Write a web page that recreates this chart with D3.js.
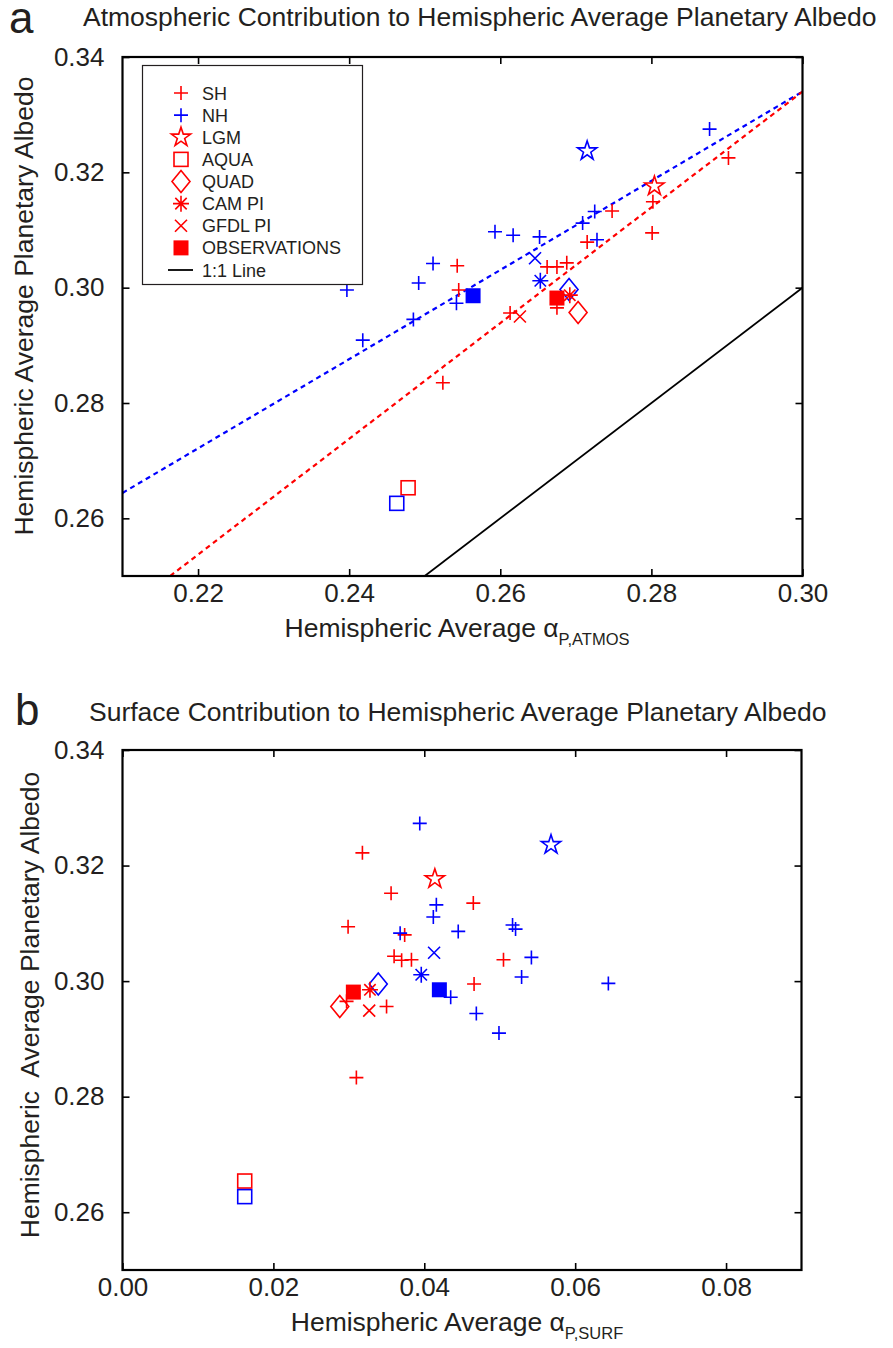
<!DOCTYPE html>
<html>
<head>
<meta charset="utf-8">
<script src="https://cdn.jsdelivr.net/npm/d3@7"></script>
<style>
body { margin: 0; background: #fff; }
text { font-family: "Liberation Sans", Arial, sans-serif; fill: #231f20; }
</style>
</head>
<body>
<script>
// panel a: atmospheric contribution vs planetary albedo
const shAtmos = [[0.2524, 0.2835], [0.2543, 0.3038], [0.2545, 0.2996], [0.2613, 0.2956], [0.2662, 0.3036], [0.2675, 0.3036], [0.2688, 0.3043], [0.2675, 0.2965], [0.2715, 0.3079], [0.2748, 0.3133], [0.2801, 0.3095], [0.2802, 0.3149], [0.2902, 0.3225]];
const nhAtmos = [[0.2397, 0.2996], [0.2418, 0.2909], [0.2485, 0.2945], [0.2492, 0.3008], [0.2511, 0.3042], [0.2542, 0.2973], [0.2593, 0.3097], [0.2617, 0.3091], [0.2652, 0.3088], [0.2709, 0.3112], [0.2725, 0.3132], [0.2728, 0.3083], [0.2877, 0.3275]];
// LGM, AQUA, QUAD, CAM PI, GFDL PI, OBSERVATIONS
const shSpecialAtmos = [[0.2804, 0.3176], [0.2478, 0.2653], [0.2703, 0.2957], [0.2692, 0.2987], [0.2626, 0.2950], [0.2675, 0.2982]];
const nhSpecialAtmos = [[0.2715, 0.3237], [0.2463, 0.2626], [0.2691, 0.2997], [0.2653, 0.3012], [0.2646, 0.3051], [0.2564, 0.2986]];
const shFit = [[0.2163, 0.25], [0.30, 0.334]];
const nhFit = [[0.21, 0.2644], [0.30, 0.334]];
const oneToOne = [[0.25, 0.25], [0.30, 0.30]];

// panel b: surface contribution vs planetary albedo
const shSurf = [[0.0318, 0.3222], [0.0356, 0.3152], [0.0465, 0.3135], [0.0299, 0.3094], [0.0374, 0.3080], [0.0360, 0.3043], [0.0370, 0.3036], [0.0383, 0.3037], [0.0505, 0.3037], [0.0466, 0.2995], [0.0297, 0.2965], [0.0350, 0.2956], [0.0310, 0.2833]];
const nhSurf = [[0.0394, 0.3273], [0.0416, 0.3132], [0.0412, 0.3111], [0.0368, 0.3083], [0.0445, 0.3086], [0.0517, 0.3097], [0.0521, 0.3090], [0.0542, 0.3041], [0.0529, 0.3007], [0.0435, 0.2972], [0.0469, 0.2944], [0.0499, 0.2910], [0.0644, 0.2996]];
const shSpecialSurf = [[0.0414, 0.3177], [0.0162, 0.2654], [0.0288, 0.2956], [0.0328, 0.2985], [0.0327, 0.2949], [0.0306, 0.2981]];
const nhSpecialSurf = [[0.0568, 0.3236], [0.0162, 0.2627], [0.0339, 0.2995], [0.0396, 0.3011], [0.0413, 0.3049], [0.0420, 0.2985]];

const specialNames = ["LGM", "AQUA", "QUAD", "CAM PI", "GFDL PI", "OBSERVATIONS"];
const legendLabels = ["SH", "NH"].concat(specialNames, ["1:1 Line"]);
const atmosTicks = [0.22, 0.24, 0.26, 0.28, 0.30];
const surfTicks = [0.00, 0.02, 0.04, 0.06, 0.08];
const albedoTicks = [0.26, 0.28, 0.30, 0.32, 0.34];

const RED = "#ff0000", BLUE = "#0000ff";
const width = 893, height = 1348;

var svg = d3.select("body").append("svg")
    .attr("width", width)
    .attr("height", height);

// marker shapes, drawn around 0,0
function marker(g, name, color) {
    let sw = 1.6;
    if (name === "plus") {
        g.append("path").attr("d", "M-7,0H7M0,-7V7")
            .attr("stroke", color).attr("stroke-width", sw).attr("fill", "none");
    } else if (name === "LGM") {
        g.append("path").attr("d", d3.symbol().type(d3.symbolStar).size(115)())
            .attr("stroke", color).attr("stroke-width", sw).attr("fill", "none");
    } else if (name === "AQUA") {
        g.append("rect").attr("x", -7).attr("y", -7).attr("width", 14).attr("height", 14)
            .attr("stroke", color).attr("stroke-width", sw).attr("fill", "none");
    } else if (name === "QUAD") {
        g.append("path").attr("d", "M0,-11L9,0L0,11L-9,0Z")
            .attr("stroke", color).attr("stroke-width", sw).attr("fill", "none");
    } else if (name === "CAM PI") {
        g.append("path").attr("d", "M-8,0H8M0,-8V8M-5.7,-5.7L5.7,5.7M-5.7,5.7L5.7,-5.7")
            .attr("stroke", color).attr("stroke-width", sw).attr("fill", "none");
    } else if (name === "GFDL PI") {
        g.append("path").attr("d", "M-6,-6L6,6M-6,6L6,-6")
            .attr("stroke", color).attr("stroke-width", sw).attr("fill", "none");
    } else if (name === "OBSERVATIONS") {
        g.append("rect").attr("x", -7.5).attr("y", -7.5).attr("width", 15).attr("height", 15)
            .attr("fill", color);
    }
}

function panel(opt) {
    let x = d3.scaleLinear().domain(opt.xDomain).range([opt.left, opt.right]);
    let y = d3.scaleLinear().domain([0.25, 0.34]).range([opt.bottom, opt.top]);
    let g = svg.append("g");

    g.append("clipPath").attr("id", "clip" + opt.id)
        .append("rect")
        .attr("x", opt.left).attr("y", opt.top)
        .attr("width", opt.right - opt.left).attr("height", opt.bottom - opt.top);

    // inward ticks on all four sides
    let tk = 7;
    g.append("g").attr("transform", `translate(0,${opt.bottom})`)
        .call(d3.axisBottom(x).tickValues(opt.xTicks).tickSize(-tk).tickFormat(d3.format(".2f")).tickPadding(8))
        .call(s => s.select(".domain").remove());
    g.append("g").attr("transform", `translate(0,${opt.top})`)
        .call(d3.axisTop(x).tickValues(opt.xTicks).tickSize(-tk).tickFormat(""))
        .call(s => s.select(".domain").remove());
    g.append("g").attr("transform", `translate(${opt.left},0)`)
        .call(d3.axisLeft(y).tickValues(albedoTicks).tickSize(-tk).tickFormat(d3.format(".2f")).tickPadding(18))
        .call(s => s.select(".domain").remove());
    g.append("g").attr("transform", `translate(${opt.right},0)`)
        .call(d3.axisRight(y).tickValues(albedoTicks).tickSize(-tk).tickFormat(""))
        .call(s => s.select(".domain").remove());
    g.selectAll(".tick line").attr("stroke", "#000").attr("stroke-width", 1.6);
    g.selectAll(".tick text").attr("font-size", 26).attr("fill", "#231f20")
        .attr("font-family", "Liberation Sans, Arial, sans-serif");

    let lines = g.append("g").attr("clip-path", `url(#clip${opt.id})`);
    let lineGen = d3.line().x(d => x(d[0])).y(d => y(d[1]));
    (opt.fits || []).forEach(f => {
        lines.append("path").datum(f.data)
            .attr("d", lineGen)
            .attr("fill", "none")
            .attr("stroke", f.color)
            .attr("stroke-width", f.dash ? 2.2 : 1.8)
            .attr("stroke-dasharray", f.dash ? "5,4" : null);
    });

    let pts = g.append("g");
    function plotSet(data, shape, color) {
        data.forEach(d => {
            marker(pts.append("g").attr("transform", `translate(${x(d[0])},${y(d[1])})`), shape, color);
        });
    }
    plotSet(opt.sh, "plus", RED);
    plotSet(opt.nh, "plus", BLUE);
    specialNames.forEach((n, i) => {
        plotSet([opt.shSpecial[i]], n, RED);
        plotSet([opt.nhSpecial[i]], n, BLUE);
    });

    // frame
    g.append("rect")
        .attr("x", opt.left).attr("y", opt.top)
        .attr("width", opt.right - opt.left).attr("height", opt.bottom - opt.top)
        .attr("fill", "none").attr("stroke", "#000").attr("stroke-width", 2.2);

    // letter + title
    g.append("text").attr("x", opt.letterX).attr("y", opt.letterY)
        .attr("font-size", 44).text(opt.letter);
    g.append("text").attr("x", opt.titleX).attr("y", opt.titleY)
        .attr("font-size", 26.5).text(opt.title);

    // x label with subscript
    let xl = g.append("text")
        .attr("x", opt.xLabelX).attr("y", opt.xLabelY)
        .attr("text-anchor", "middle").attr("font-size", 26.5);
    xl.append("tspan").text("Hemispheric Average \u03b1");
    xl.append("tspan").attr("font-size", 16.5).attr("dy", 8).text(opt.sub);

    g.append("text")
        .attr("transform", `translate(${opt.yLabelX},${opt.yLabelY}) rotate(-90)`)
        .attr("text-anchor", "middle").attr("font-size", 26.5)
        .attr("xml:space", "preserve").style("white-space", "pre")
        .text(opt.yLabel);

    return { g, x, y };
}

let a = panel({
    id: "a", left: 122.5, right: 802.5, top: 57, bottom: 576,
    xDomain: [0.21, 0.30], xTicks: atmosTicks,
    sh: shAtmos, nh: nhAtmos, shSpecial: shSpecialAtmos, nhSpecial: nhSpecialAtmos,
    fits: [
        { data: oneToOne, color: "#000", dash: false },
        { data: nhFit, color: BLUE, dash: true },
        { data: shFit, color: RED, dash: true }
    ],
    letter: "a", letterX: 9, letterY: 33,
    title: "Atmospheric Contribution to Hemispheric Average Planetary Albedo", titleX: 83, titleY: 26,
    sub: "P,ATMOS", xLabelX: 457, xLabelY: 637,
    yLabel: "Hemispheric Average Planetary Albedo", yLabelX: 33, yLabelY: 306
});

let b = panel({
    id: "b", left: 122.5, right: 801.5, top: 750, bottom: 1270,
    xDomain: [0.00, 0.09], xTicks: surfTicks,
    sh: shSurf, nh: nhSurf, shSpecial: shSpecialSurf, nhSpecial: nhSpecialSurf,
    fits: [],
    letter: "b", letterX: 15, letterY: 725,
    title: "Surface Contribution to Hemispheric Average Planetary Albedo", titleX: 89, titleY: 721,
    sub: "P,SURF", xLabelX: 457, xLabelY: 1331,
    yLabel: "Hemispheric  Average Planetary Albedo", yLabelX: 39, yLabelY: 1005
});

// legend in panel a
let lg = svg.append("g");
lg.append("rect").attr("x", 142.5).attr("y", 65.5).attr("width", 220).attr("height", 219)
    .attr("fill", "#fff").attr("stroke", "#231f20").attr("stroke-width", 1.2);
let rowY = d3.scalePoint().domain(legendLabels).range([93, 270]);
legendLabels.forEach((lab, i) => {
    let cy = rowY(lab);
    let mg = lg.append("g").attr("transform", `translate(181,${cy})`);
    if (lab === "SH") marker(mg, "plus", RED);
    else if (lab === "NH") marker(mg, "plus", BLUE);
    else if (lab === "1:1 Line") mg.append("path").attr("d", "M-13,0H12").attr("stroke", "#000").attr("stroke-width", 1.8);
    else marker(mg, lab, RED);
    lg.append("text").attr("x", 202).attr("y", cy + 6.5).attr("font-size", 18).text(lab);
});
</script>
</body>
</html>
